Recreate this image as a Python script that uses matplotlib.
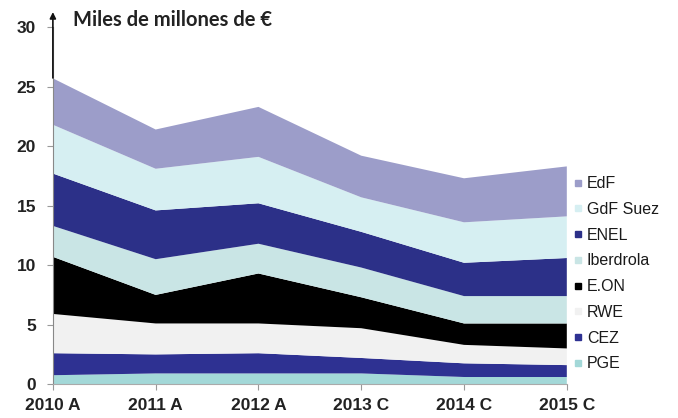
import numpy as np
import matplotlib.pyplot as plt
from matplotlib.lines import Line2D

# Datos (miles de millones de €)
years = ['2010 A', '2011 A', '2012 A', '2013 C', '2014 C', '2015 C']
companies = ['PGE', 'CEZ', 'RWE', 'E.ON', 'Iberdrola', 'ENEL', 'GdF Suez', 'EdF']
pge = [0.75, 0.9, 0.9, 0.9, 0.6, 0.6]
cez = [1.85, 1.6, 1.7, 1.3, 1.15, 1.0]
rwe = [3.3, 2.6, 2.5, 2.5, 1.55, 1.4]
eon = [4.8, 2.4, 4.2, 2.6, 1.8, 2.1]
iberdrola = [2.6, 3.0, 2.5, 2.5, 2.3, 2.3]
enel = [4.4, 4.1, 3.4, 3.0, 2.8, 3.2]
gdf = [4.1, 3.5, 3.9, 2.9, 3.4, 3.5]
edf = [3.9, 3.3, 4.2, 3.5, 3.7, 4.2]

colors = ['#a3d8d8', '#2e3192', '#f1f1f1', '#000000',
          '#c9e5e5', '#2c3088', '#d6eff2', '#9c9dc9']

fig = plt.figure(figsize=(6.78, 4.18), dpi=100)
ax = fig.add_axes([0.078, 0.081, 0.758, 0.854])

x = np.arange(len(years))
ax.stackplot(x, pge, cez, rwe, eon, iberdrola, enel, gdf, edf,
             colors=colors, linewidth=0)

ax.set_xlim(0, len(years) - 1)
ax.set_ylim(0, 30)
ax.set_xticks(x)
ax.set_xticklabels(years)
ax.set_yticks(range(0, 31, 5))
for lab in ax.get_xticklabels() + ax.get_yticklabels():
    lab.set_fontfamily('Liberation Sans')
    lab.set_fontweight('bold')
    lab.set_fontsize(12.5)
    lab.set_color('#222222')
ax.tick_params(axis='x', length=4, color='#999999', pad=6)
ax.tick_params(axis='y', length=4, color='#999999', pad=8)

for s in ['top', 'right']:
    ax.spines[s].set_visible(False)
ax.spines['left'].set_color('#888888')
ax.spines['bottom'].set_color('#aaaaaa')

# flecha del eje y
ax.annotate('', xy=(0, 31.5), xytext=(0, 25.5), xycoords='data',
            arrowprops=dict(arrowstyle='-|>', color='#111111', lw=1.2,
                            mutation_scale=9), annotation_clip=False)

fig.text(0.108, 0.951, 'Miles de millones de €', fontfamily='Lato',
         fontweight='bold', fontsize=14.5, color='#222222', va='center')

handles = [Line2D([], [], marker='s', linestyle='', markersize=5,
                  color=colors[i]) for i in range(len(companies))][::-1]
leg = ax.legend(handles, companies[::-1], loc='upper left',
                bbox_to_anchor=(1.0, 0.6), frameon=False,
                handlelength=0.6, handletextpad=0.25, labelspacing=0.67,
                borderaxespad=0, prop={'family': 'Liberation Sans', 'size': 11.5})
for t in leg.get_texts():
    t.set_color('#1a1a1a')

fig.savefig('out.png', dpi=100)
